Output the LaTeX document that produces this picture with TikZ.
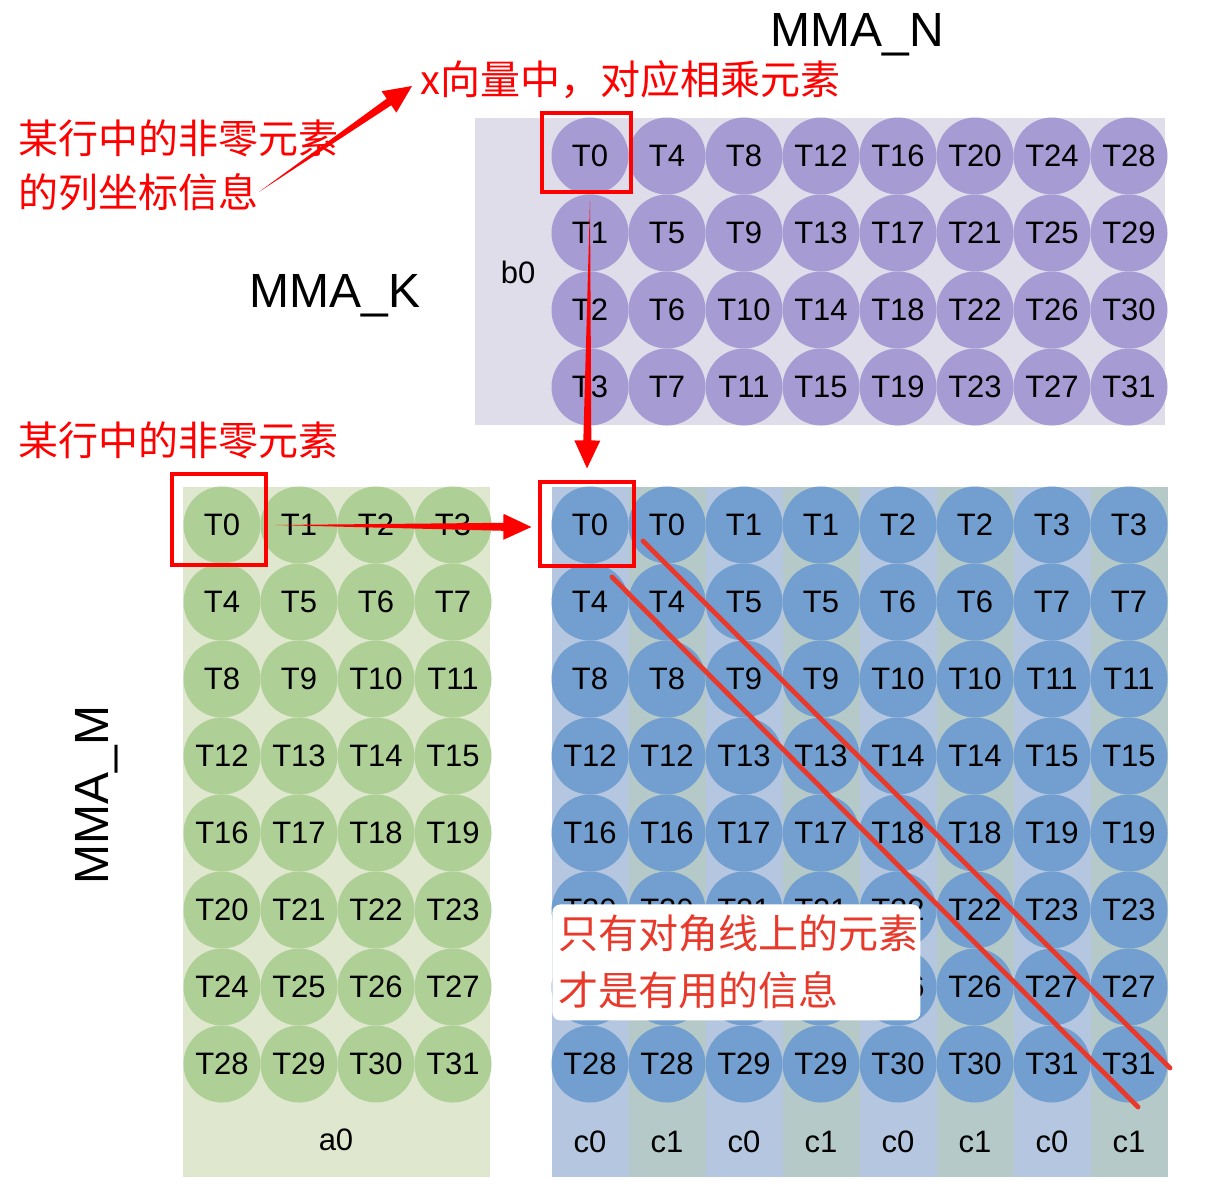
\documentclass[tikz,border=0pt]{standalone}
\usepackage{fontspec}
\setmainfont{Liberation Sans}
\newfontfamily\cjk{Noto Sans CJK SC}
\usetikzlibrary{calc}
\definecolor{bback}{HTML}{DFDDEA}
\definecolor{bball}{HTML}{A69BD3}
\definecolor{aback}{HTML}{DFE8CF}
\definecolor{aball}{HTML}{AECF96}
\definecolor{cback0}{HTML}{B5C7E0}
\definecolor{cback1}{HTML}{B5CAC8}
\definecolor{cball}{HTML}{729FCF}
\definecolor{linered}{HTML}{E8392B}
\tikzset{
  ball/.style={circle,inner sep=0pt,minimum size=38.5pt,font=\fontsize{15.5}{18}\selectfont},
  redbox/.style={draw=red,line width=1.6pt,inner sep=0pt},
  bigtext/.style={font=\fontsize{24}{28}\selectfont},
  redtext/.style={text=red,inner sep=0pt,anchor=west,font=\cjk\fontsize{20}{24}\selectfont},
  notebox/.style={fill=white,rounded corners=4pt,inner sep=0pt},
  diagline/.style={draw=linered,line width=2.4pt,line cap=round},
}
\newcommand{\taperarrow}[2]{% pointed tail, wide head
  \coordinate (hb) at ($(#2)!14pt!(#1)$);
  \fill[red] (#1) -- ($(hb)!2pt!90:(#2)$) -- ($(hb)!6.5pt!90:(#2)$) -- (#2)
    -- ($(hb)!6.5pt!-90:(#2)$) -- ($(hb)!2pt!-90:(#2)$) -- cycle;
}
\begin{document}
\begin{tikzpicture}[x=0.5pt,y=-0.5pt]
    \useasboundingbox (0,0) rectangle (1210,1196);

    % backgrounds of the three blocks
    \fill[bback] (475,118) rectangle (1165,425);
    \fill[aback] (183,487) rectangle (490,1177);
    \foreach \j in {0,...,7}{%
      \pgfmathtruncatemacro{\cp}{mod(\j,2)}
      \fill[cback\cp] ({551.5+77*\j},487) rectangle ({628.5+77*\j},1177);
      \node[font=\fontsize{15.5}{18}\selectfont] (clab-\j) at ({590+77*\j},1142) {c\cp};
    }

    % threads of b0
    \foreach \j in {0,...,7}{%
      \foreach \i in {0,...,3}{%
        \pgfmathtruncatemacro{\k}{4*\j+\i}
        \node[ball,fill=bball] (b-\i-\j) at ({590+77*\j},{156+77*\i}) {T\k};
      }
    }
    % threads of a0
    \foreach \i in {0,...,7}{%
      \foreach \j in {0,...,3}{%
        \pgfmathtruncatemacro{\k}{4*\i+\j}
        \node[ball,fill=aball] (a-\i-\j) at ({222+77*\j},{525+77*\i}) {T\k};
      }
    }
    % threads of c0/c1
    \foreach \i in {0,...,7}{%
      \foreach \j in {0,...,7}{%
        \pgfmathtruncatemacro{\k}{4*\i+int(\j/2)}
        \node[ball,fill=cball] (c-\i-\j) at ({590+77*\j},{525+77*\i}) {T\k};
      }
    }

    \node[font=\fontsize{15.5}{18}\selectfont] (blab) at (518,272) {b0};
    \node[font=\fontsize{15.5}{18}\selectfont] (alab) at (336,1140) {a0};
    \node[bigtext] (mman) at (857,35) {MMA\_N};
    \node[bigtext] (mmak) at (335,296) {MMA\_K};
    \node[bigtext,rotate=90] (mmam) at (97,795) {MMA\_M};

    % red frames
    \node[redbox,minimum width=44.5pt,minimum height=39.5pt] (bsel) at (586.5,152.5) {};
    \node[redbox,minimum width=47pt,minimum height=45.5pt] (asel) at (219,519.5) {};
    \node[redbox,minimum width=47pt,minimum height=42pt] (csel) at (587,524) {};

    % annotations
    \node[redtext] (rowtop) at (18,138) {某行中的非零元素};
    \node[redtext] (colinfo) at (18,192) {的列坐标信息};
    \node[redtext] (xvec) at (420,80) {x向量中，对应相乘元素};
    \node[redtext] (rownz) at (18,440) {某行中的非零元素};

    \coordinate (ctail) at (colinfo.east);
    \coordinate (ctip) at ($(xvec.west)+(-8,6)$);
    \coordinate (vtail) at ($(b-0-0.south)+(0,6)$);
    \coordinate (vtip) at ($(csel.north)+(0,-12)$);
    \coordinate (htail) at ($(a-0-1.west)+(15,0)$);
    \coordinate (htip) at ($(csel.west)+(-7,3)$);
    \taperarrow{ctail}{ctip}
    \taperarrow{vtail}{vtip}
    \taperarrow{htail}{htip}

    % diagonals
    \coordinate (d1s) at (643,541);
    \coordinate (d1e) at (1170,1068);
    \coordinate (d2s) at (612,577);
    \coordinate (d2e) at (1138,1107);
    \draw[diagline] (d1s) -- (d1e);
    \draw[diagline] (d2s) -- (d2e);

    \node[notebox,anchor=north west,minimum width=184pt,minimum height=58pt] (note) at (552,904) {};
    \node[redtext,text=linered] (note1) at ($(note.north west)+(6,29)$) {只有对角线上的元素};
    \node[redtext,text=linered] (note2) at ($(note.north west)+(6,86)$) {才是有用的信息};
\end{tikzpicture}
\end{document}
